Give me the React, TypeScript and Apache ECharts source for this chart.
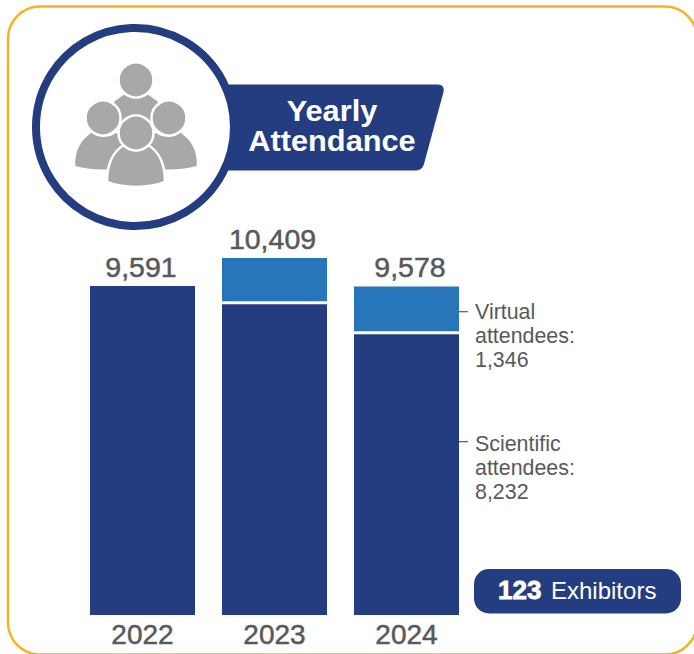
import React, { useEffect, useRef } from "react";
import * as echarts from "echarts";

const years = ["2022", "2023", "2024"];
const scientific = [9591, 9100, 8232];
const virtualAttendees = [null, 1309, 1346];
const totals = [9591, 10409, 9578];
const exhibitors = 123;

const NAVY = "#243c80";
const BLUE = "#2776ba";
const TEXT = "#58595b";
const ORANGE = "#f5b324";
const GREY = "#a7a8aa";
const SANS = '"Liberation Sans", Arial, sans-serif';

// Horizontal nudges of the total labels relative to their bars
const totalLabelShift = [-1.5, -2, 3.5];

const fmt = (v: number) => v.toLocaleString("en-US");

// Vector shapes for the title ribbon and the people pictogram
echarts.graphic.registerShape(
  "ribbon",
  echarts.graphic.extendPath("M200 84.5 H437 Q445 84.5 443.5 92 L424 164 Q422 170.5 416 170.5 H200 Z", {})
);
echarts.graphic.registerShape(
  "bodyFront",
  echarts.graphic.extendPath(
    "M107 182 C107 163 114 151 124 145 C130 151 142 151 148 145 C158 151 165 163 165 182 C150 188.5 122 188.5 107 182 Z",
    {}
  )
);
echarts.graphic.registerShape(
  "bodyLeft",
  echarts.graphic.extendPath(
    "M74 167 C73 150 81 138 92 131 C98 137 110 137 116 131 C126 138 134 150 134 167 C118 172 90 172 74 167 Z",
    {}
  )
);
echarts.graphic.registerShape(
  "bodyRight",
  echarts.graphic.extendPath(
    "M198 167 C199 150 191 138 180 131 C174 137 162 137 156 131 C146 138 138 150 138 167 C154 172 182 172 198 167 Z",
    {}
  )
);
echarts.graphic.registerShape(
  "bodyBack",
  echarts.graphic.extendPath("M113 101 L124 93 C130 98 142 98 148 93 L159 101 L159 150 L113 150 Z", {})
);

const person = { fill: GREY, stroke: "#fff", lineWidth: 2.5 };
const head = (cx: number, cy: number, r: number) => ({
  type: "circle",
  shape: { cx, cy, r },
  style: person,
});
const body = (type: string) => ({ type, x: 0, y: 0, style: person });

export default function App() {
  const ref = useRef<HTMLDivElement>(null);

  useEffect(() => {
    const chart = echarts.init(ref.current!, undefined, { renderer: "svg" });
    chart.setOption({
      animation: false,
      backgroundColor: "#fff",
      grid: { left: 76.5, width: 396, top: 203.4, bottom: 39, containLabel: false },
      xAxis: {
        type: "category",
        data: years,
        axisLine: { show: false },
        axisTick: { show: false },
        axisLabel: {
          color: TEXT,
          fontFamily: SANS,
          fontSize: 28,
          margin: 5,
          textBorderColor: TEXT,
          textBorderWidth: 0.5,
        },
      },
      yAxis: { type: "value", min: 0, max: 12000, show: false, splitLine: { show: false } },
      series: [
        {
          name: "Scientific attendees",
          type: "bar",
          stack: "attendance",
          barWidth: 105,
          data: scientific,
          itemStyle: { color: NAVY },
        },
        {
          name: "Virtual attendees",
          type: "bar",
          stack: "attendance",
          barWidth: 105,
          data: virtualAttendees,
          itemStyle: { color: BLUE },
        },
        {
          // White rule between the two stacked segments
          name: "Divider",
          type: "custom",
          data: scientific.map((v, i) => [i, v, virtualAttendees[i]]),
          z: 5,
          renderItem: (_p: any, api: any) => {
            if (!api.value(2)) return null;
            const [cx, cy] = api.coord([api.value(0), api.value(1)]);
            return {
              type: "rect",
              shape: { x: cx - 52.5, y: cy - 1.5, width: 105, height: 3 },
              style: { fill: "#fff" },
            };
          },
        },
        {
          // Invisible line carrying the total above each bar
          name: "Total",
          type: "line",
          data: totals.map((value, i) => ({ value, label: { offset: [totalLabelShift[i], 0] } })),
          symbol: "circle",
          symbolSize: 1,
          itemStyle: { color: "rgba(0,0,0,0)" },
          lineStyle: { opacity: 0 },
          z: 6,
          label: {
            show: true,
            position: "top",
            distance: 4,
            color: TEXT,
            fontFamily: SANS,
            fontSize: 28.5,
            textBorderColor: TEXT,
            textBorderWidth: 0.5,
            formatter: (p: any) => fmt(p.value),
          },
        },
      ],
      graphic: [
        {
          type: "rect",
          shape: { x: 8, y: 6.5, width: 689, height: 648, r: 32 },
          style: { fill: "none", stroke: ORANGE, lineWidth: 2.5 },
        },
        { type: "ribbon", x: 0, y: 0, style: { fill: NAVY } },
        {
          type: "circle",
          shape: { cx: 135, cy: 127, r: 99 },
          style: { fill: "#fff", stroke: NAVY, lineWidth: 8 },
        },
        body("bodyBack"),
        head(136, 80, 17.5),
        body("bodyLeft"),
        head(103, 118, 17.5),
        body("bodyRight"),
        head(169, 118, 17.5),
        body("bodyFront"),
        head(136, 133, 17.5),
        {
          type: "text",
          x: 332,
          y: 96,
          scaleX: 1.025,
          style: {
            text: "Yearly\nAttendance",
            fill: "#fff",
            font: `bold 30px ${SANS}`,
            lineHeight: 30,
            align: "center",
            verticalAlign: "top",
          },
        },
        { type: "line", shape: { x1: 459, y1: 311.7, x2: 468, y2: 311.7 }, style: { stroke: TEXT, lineWidth: 1.2 } },
        { type: "line", shape: { x1: 459, y1: 441.7, x2: 468, y2: 441.7 }, style: { stroke: TEXT, lineWidth: 1.2 } },
        {
          type: "text",
          x: 475,
          y: 300,
          style: {
            text: `Virtual\nattendees:\n${fmt(virtualAttendees[2] as number)}`,
            fill: TEXT,
            font: `21.4px ${SANS}`,
            lineHeight: 24,
            verticalAlign: "top",
          },
        },
        {
          type: "text",
          x: 475,
          y: 432,
          style: {
            text: `Scientific\nattendees:\n${fmt(scientific[2])}`,
            fill: TEXT,
            font: `21.4px ${SANS}`,
            lineHeight: 24,
            verticalAlign: "top",
          },
        },
        {
          type: "rect",
          shape: { x: 474, y: 569, width: 207, height: 44.5, r: 15 },
          style: { fill: NAVY },
        },
        {
          type: "text",
          x: 498,
          y: 590,
          style: {
            text: String(exhibitors),
            fill: "#fff",
            font: `bold 26px ${SANS}`,
            stroke: "#fff",
            lineWidth: 0.8,
            verticalAlign: "middle",
          },
        },
        {
          type: "text",
          x: 551,
          y: 590,
          style: { text: "Exhibitors", fill: "#fff", font: `24px ${SANS}`, verticalAlign: "middle" },
        },
      ],
    });
    return () => chart.dispose();
  }, []);

  return <div ref={ref} style={{ position: "absolute", left: 0, top: 0, width: 694, height: 654 }} />;
}
